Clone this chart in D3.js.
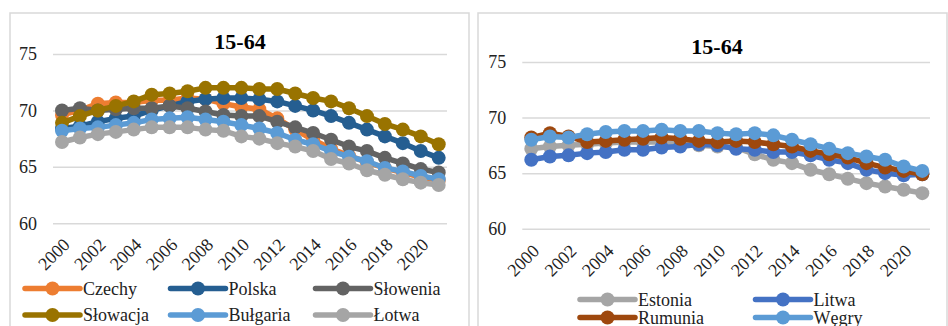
<!DOCTYPE html>
<html>
<head>
<meta charset="utf-8">
<script src="https://cdn.jsdelivr.net/npm/d3@7"></script>
<style>
  html, body { margin: 0; padding: 0; background: #fff; }
  svg { display: block; font-family: "Liberation Serif", "Times New Roman", serif; }
</style>
</head>
<body>
<svg id="chart" width="948" height="326"></svg>
<script>
// Working-age (15-64) population share, in percent, 2000-2021
const years = d3.range(2000, 2022);
const tickYears = [2000, 2002, 2004, 2006, 2008, 2010, 2012, 2014, 2016, 2018, 2020];
const yTicks = [60, 65, 70, 75];
const title = "15-64";

// Left panel
const czechy   = [69.6, 70.0, 70.6, 70.7, 70.7, 70.9, 70.9, 71.1, 71.0, 70.6, 70.3, 70.1, 69.3, 68.3, 67.4, 66.6, 66.0, 65.4, 64.9, 64.5, 64.1, 63.8];
const polska   = [68.4, 68.6, 69.0, 69.3, 69.5, 70.0, 70.4, 70.8, 71.0, 71.1, 71.1, 71.0, 70.8, 70.4, 70.0, 69.5, 68.9, 68.3, 67.7, 67.1, 66.4, 65.8];
const slowenia = [70.0, 70.2, 70.0, 70.1, 70.2, 70.2, 70.4, 70.2, 69.9, 69.6, 69.5, 69.5, 69.0, 68.5, 68.0, 67.4, 66.8, 66.4, 65.8, 65.3, 64.8, 64.5];
const slowacja = [68.9, 69.5, 70.0, 70.4, 70.8, 71.4, 71.5, 71.7, 72.0, 72.0, 72.0, 71.9, 71.9, 71.5, 71.1, 70.8, 70.2, 69.5, 68.8, 68.3, 67.7, 67.0];
const bulgaria = [68.2, 68.4, 68.5, 68.7, 68.9, 69.2, 69.3, 69.4, 69.2, 69.0, 68.7, 68.4, 68.0, 67.4, 67.0, 66.4, 65.9, 65.5, 64.9, 64.6, 64.2, 63.9];
const lotwa    = [67.2, 67.6, 67.9, 68.1, 68.3, 68.5, 68.5, 68.5, 68.3, 68.2, 67.7, 67.5, 67.1, 66.8, 66.4, 65.7, 65.3, 64.7, 64.3, 63.9, 63.6, 63.4];

// Right panel
const estonia  = [67.2, 67.4, 67.5, 67.6, 67.7, 67.8, 67.8, 67.8, 67.7, 67.5, 67.4, 67.3, 66.7, 66.2, 65.9, 65.3, 64.9, 64.5, 64.1, 63.8, 63.5, 63.2];
const litwa    = [66.2, 66.5, 66.6, 66.8, 66.9, 67.1, 67.1, 67.3, 67.4, 67.6, 67.5, 67.2, 67.1, 66.9, 66.9, 66.6, 66.2, 65.9, 65.3, 65.0, 64.8, 64.9];
const rumunia  = [68.2, 68.6, 68.3, 67.8, 67.9, 68.0, 68.1, 68.2, 68.1, 67.9, 67.8, 67.9, 67.8, 67.6, 67.4, 67.0, 66.7, 66.4, 65.9, 65.5, 65.2, 64.9];
const wegry    = [68.0, 68.3, 68.2, 68.5, 68.7, 68.8, 68.8, 68.9, 68.8, 68.8, 68.6, 68.5, 68.6, 68.4, 68.0, 67.6, 67.2, 66.8, 66.5, 66.2, 65.6, 65.2];

const leftSeries = [
  { name: "Czechy",   values: czechy,   color: "#ED7D31" },
  { name: "Polska",   values: polska,   color: "#255E91" },
  { name: "Słowenia", values: slowenia, color: "#636363" },
  { name: "Słowacja", values: slowacja, color: "#997300" },
  { name: "Bułgaria", values: bulgaria, color: "#5B9BD5" },
  { name: "Łotwa",    values: lotwa,    color: "#A5A5A5" }
];
const rightSeries = [
  { name: "Estonia", values: estonia, color: "#A5A5A5" },
  { name: "Litwa",   values: litwa,   color: "#4472C4" },
  { name: "Rumunia", values: rumunia, color: "#9E480E" },
  { name: "Węgry",   values: wegry,   color: "#5B9BD5" }
];

const svg = d3.select("#chart");

function drawPanel(p) {
  const g = svg.append("g");

  // frame
  g.append("rect")
    .attr("x", p.frame[0]).attr("y", p.frame[1])
    .attr("width", p.frame[2]).attr("height", p.frame[3])
    .attr("fill", "#fff").attr("stroke", "#D9D9D9").attr("stroke-width", 1.5);

  const x = d3.scalePoint().domain(years).range([p.x0, p.x1]);
  const y = d3.scaleLinear().domain([60, 75]).range([p.yBottom, p.yTop]);

  // gridlines + y labels
  const yAxis = d3.axisLeft(y).tickValues(yTicks).tickSize(-(p.gx1 - p.gx0)).tickPadding(16);
  const ya = g.append("g").attr("transform", `translate(${p.gx0},0)`).call(yAxis);
  ya.select(".domain").remove();
  ya.selectAll(".tick line").attr("stroke", "#D9D9D9").attr("stroke-width", 1.5);
  ya.selectAll(".tick text")
    .attr("font-family", "'Liberation Serif', 'Times New Roman', serif")
    .attr("font-size", 18).attr("fill", "#222");

  // x labels, rotated
  const xAxis = d3.axisBottom(x).tickValues(tickYears).tickSize(0).tickPadding(0);
  const xa = g.append("g").attr("transform", `translate(0,${p.yBottom})`).call(xAxis);
  xa.select(".domain").remove();
  xa.selectAll(".tick text")
    .attr("font-family", "'Liberation Serif', 'Times New Roman', serif")
    .attr("font-size", 18).attr("fill", "#222")
    .attr("text-anchor", "end")
    .attr("dy", "0.35em").attr("y", 0)
    .attr("transform", `translate(${p.lx},${p.ly}) rotate(-45)`);

  // title
  g.append("text")
    .attr("x", p.titleX).attr("y", p.titleY)
    .attr("text-anchor", "middle")
    .attr("font-size", 22).attr("font-weight", "bold").attr("fill", "#000")
    .text(title);

  // series
  const line = d3.line().x((d, i) => x(years[i])).y(d => y(d));
  p.series.forEach(s => {
    const sg = g.append("g");
    sg.append("path").datum(s.values)
      .attr("d", line).attr("fill", "none")
      .attr("stroke", s.color).attr("stroke-width", 5.5)
      .attr("stroke-linejoin", "round").attr("stroke-linecap", "round");
    sg.selectAll("circle").data(s.values).join("circle")
      .attr("cx", (d, i) => x(years[i])).attr("cy", d => y(d))
      .attr("r", 7).attr("fill", s.color);
  });

  // legend
  p.series.forEach((s, i) => {
    const col = i % p.legendCols.length, row = Math.floor(i / p.legendCols.length);
    const lx = p.legendCols[col], ly = p.legendRows[row];
    const lg = g.append("g");
    lg.append("line")
      .attr("x1", lx).attr("x2", lx + 55).attr("y1", ly).attr("y2", ly)
      .attr("stroke", s.color).attr("stroke-width", 5.5).attr("stroke-linecap", "round");
    lg.append("circle").attr("cx", lx + 27.5).attr("cy", ly).attr("r", 7).attr("fill", s.color);
    lg.append("text")
      .attr("x", lx + 58).attr("y", ly).attr("dy", "0.35em")
      .attr("font-size", 18).attr("fill", "#222")
      .text(s.name);
  });
}

drawPanel({
  frame: [10, 13, 459, 340],
  x0: 62, x1: 438.7, gx0: 53, gx1: 447,
  yBottom: 223.3, yTop: 54,
  lx: 4, ly: 18,
  titleX: 240, titleY: 49,
  series: leftSeries,
  legendCols: [25, 170.5, 315.5],
  legendRows: [288.5, 315]
});

drawPanel({
  frame: [478, 13, 469, 340],
  x0: 531.3, x1: 922.3, gx0: 522.3, gx1: 930,
  yBottom: 228.7, yTop: 62,
  lx: 4, ly: 19,
  titleX: 717, titleY: 54,
  series: rightSeries,
  legendCols: [580, 755.5],
  legendRows: [299.5, 317.5]
});
</script>
</body>
</html>
